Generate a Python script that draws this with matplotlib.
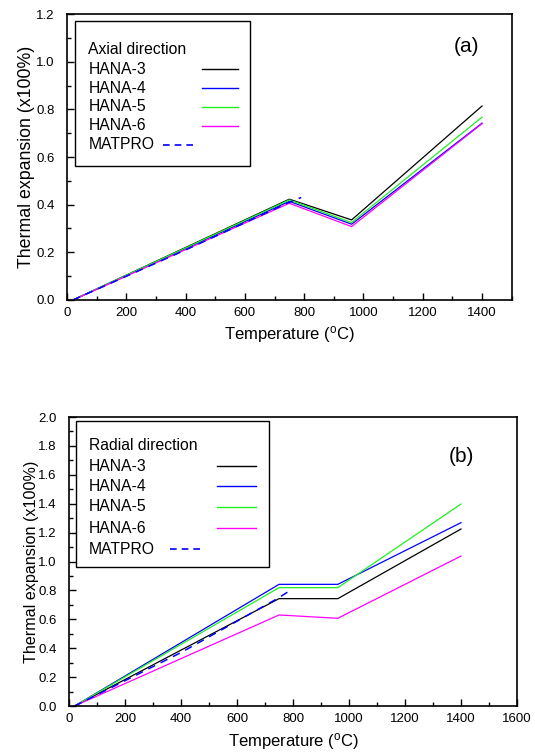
import numpy as np
import matplotlib
matplotlib.use("Agg")
import matplotlib.pyplot as plt
from matplotlib.ticker import MultipleLocator, FormatStrFormatter

plt.rcParams['font.family'] = ['Liberation Sans', 'DejaVu Sans']

# (a) axial direction, temperature in C, expansion in x100%
temp_a = [20, 750, 960, 1400]
axial = {
    'HANA-3': [0.0, 0.423, 0.336, 0.814],
    'HANA-4': [0.0, 0.414, 0.318, 0.742],
    'HANA-5': [0.0, 0.420, 0.325, 0.767],
    'HANA-6': [0.0, 0.406, 0.308, 0.740],
}
matpro_a_t = [20, 400, 750, 790]
matpro_a = [0.0, 0.21, 0.41, 0.430]

# (b) radial direction
temp_b = [20, 750, 960, 1400]
radial = {
    'HANA-3': [0.0, 0.743, 0.743, 1.225],
    'HANA-4': [0.0, 0.842, 0.842, 1.269],
    'HANA-5': [0.0, 0.819, 0.819, 1.398],
    'HANA-6': [0.0, 0.630, 0.607, 1.038],
}
matpro_b_t = [20, 400, 750, 792]
matpro_b = [0.0, 0.37, 0.750, 0.803]

colors = {'HANA-3': 'black', 'HANA-4': '#0000ff', 'HANA-5': '#22ee22', 'HANA-6': '#ff00ff'}

fig = plt.figure(figsize=(5.35, 7.53), dpi=100)
ax1 = fig.add_axes([0.1252, 0.6016, 0.8312, 0.3798])
ax2 = fig.add_axes([0.129, 0.0624, 0.8374, 0.3838])


def style(ax, xmax, ymax, ylab_size, ylab_pad):
    ax.set_xlim(0, xmax)
    ax.set_ylim(0, ymax)
    ax.xaxis.set_major_locator(MultipleLocator(200))
    ax.xaxis.set_minor_locator(MultipleLocator(100))
    ax.yaxis.set_major_locator(MultipleLocator(0.2))
    ax.yaxis.set_minor_locator(MultipleLocator(0.1))
    ax.yaxis.set_major_formatter(FormatStrFormatter('%.1f'))
    ax.tick_params(which='both', direction='in', labelsize=9.5, top=False, right=False)
    ax.tick_params(which='major', length=5, width=1)
    ax.tick_params(which='minor', length=3, width=1)
    ax.tick_params(axis='y', which='major', pad=9)
    ax.tick_params(axis='x', which='major', pad=5)
    for s in ax.spines.values():
        s.set_linewidth(1.2)
    ax.set_xlabel(r'Temperature ($\mathregular{^{o}}$C)', fontsize=12, labelpad=4)
    ax.set_ylabel('Thermal expansion (x100%)', fontsize=ylab_size, labelpad=ylab_pad)


def legend_box(ax, title, x0, x1, y0, y1, tx, rows, hx, mx):
    ax.add_patch(plt.Rectangle((x0, y0), x1 - x0, y1 - y0, transform=ax.transAxes,
                               fill=False, edgecolor='black', lw=1.0, zorder=5))
    ax.text(tx, rows[0], title, transform=ax.transAxes, fontsize=11.3, va='center', ha='left')
    for name, y in zip(list(colors) + ['MATPRO'], rows[1:]):
        ax.text(tx, y, name, transform=ax.transAxes, fontsize=11.3, va='center', ha='left')
        if name == 'MATPRO':
            ax.plot(mx, [y, y], transform=ax.transAxes, color='#0000ff', lw=1.2, ls=(0, (4, 3)))
        else:
            ax.plot(hx, [y, y], transform=ax.transAxes, color=colors[name], lw=1.0)


for name, vals in axial.items():
    ax1.plot(temp_a, vals, color=colors[name], lw=0.9)
ax1.plot(matpro_a_t, matpro_a, color='#0000ff', lw=1.1, ls=(0, (5, 4)))
style(ax1, 1500, 1.2, 12.8, 1)
legend_box(ax1, 'Axial direction', 0.018, 0.411, 0.469, 0.9755, 0.048,
           [0.877, 0.807, 0.740, 0.676, 0.609, 0.542], [0.304, 0.385], [0.217, 0.291])
ax1.text(0.899, 0.886, '(a)', transform=ax1.transAxes, fontsize=15, ha='center', va='center')

for name, vals in radial.items():
    ax2.plot(temp_b, vals, color=colors[name], lw=0.9)
ax2.plot(matpro_b_t, matpro_b, color='#0000ff', lw=1.1, ls=(0, (5, 4)))
style(ax2, 1600, 2.0, 11.6, -1)
legend_box(ax2, 'Radial direction', 0.0156, 0.446, 0.481, 0.986, 0.045,
           [0.901, 0.830, 0.761, 0.690, 0.615, 0.542], [0.331, 0.417], [0.225, 0.298])
ax2.text(0.876, 0.863, '(b)', transform=ax2.transAxes, fontsize=15, ha='center', va='center')

fig.savefig('out.png', dpi=100)
